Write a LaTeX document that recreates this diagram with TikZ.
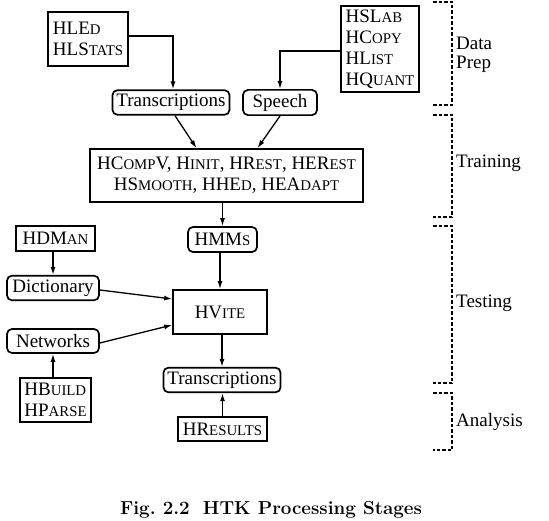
\documentclass[tikz,border=0pt]{standalone}
\usepackage{fontspec}
\newfontfamily\tms{Liberation Serif}
\usetikzlibrary{arrows.meta}
\newcommand{\hsc}[1]{{\fontsize{0.78em}{1em}\selectfont #1}}
\newcommand{\rightbar}{452}
\newcommand{\leftbar}{433}
\tikzset{
    common/.style={draw, line width=1.7pt, inner sep=4pt, font=\tms\fontsize{19}{21}\selectfont},
    tool/.style={common, rectangle, align=left},
    data/.style={common, rectangle, rounded corners=5pt},
    link/.style={-{Latex[length=8pt, width=5pt]}, line width=1.3pt},
    stage/.style={line width=1.4pt, dash pattern=on 3.5pt off 2pt},
    stagename/.style={anchor=west, align=left, inner sep=0pt, font=\tms\fontsize{19}{19}\selectfont}
}
\begin{document}
\begin{tikzpicture}[x=1pt, y=-1pt]
    \useasboundingbox (0,0) rectangle (549,521);

    % data prep
    \node[tool, minimum width=80pt, minimum height=54pt] (hled) at (88,39) {HLE\hsc{D}\\HLS\hsc{TATS}};
    \node[tool, minimum width=78pt, minimum height=84pt] (hslab) at (380,49) {HSL\hsc{AB}\\HC\hsc{OPY}\\HL\hsc{IST}\\HQ\hsc{UANT}};
    \node[data, minimum width=116pt, minimum height=23pt] (transA) at (171,102.5) {Transcriptions};
    \node[data, minimum width=74pt, minimum height=23pt] (speech) at (280,102.5) {Speech};

    % training
    \node[tool, align=center, minimum width=273pt, minimum height=53pt] (train) at (226.5,175.5)
        {HC\hsc{OMP}V, H\hsc{INIT}, HR\hsc{EST}, HER\hsc{EST}\\HS\hsc{MOOTH}, HHE\hsc{D}, HEA\hsc{DAPT}};

    % testing
    \node[data, minimum width=69pt, minimum height=25pt] (hmms) at (222.5,239.5) {HMM\hsc{S}};
    \node[tool, minimum width=79pt, minimum height=25pt] (hdman) at (55.5,238.5) {HDM\hsc{AN}};
    \node[data, minimum width=92pt, minimum height=24pt] (dict) at (53,288) {Dictionary};
    \node[tool, minimum width=94pt, minimum height=44pt] (hvite) at (220,312) {HV\hsc{ITE}};
    \node[data, minimum width=92pt, minimum height=24pt] (netw) at (53,341) {Networks};
    \node[tool, minimum width=71pt, minimum height=44pt] (hbuild) at (55.5,400) {HB\hsc{UILD}\\HP\hsc{ARSE}};

    % analysis
    \node[data, minimum width=116pt, minimum height=24pt] (transB) at (222,380) {Transcriptions};
    \node[tool, minimum width=89pt, minimum height=24pt] (hresults) at (222.5,429) {HR\hsc{ESULTS}};

    \draw[link] ([yshift=3pt]hled.east) -| ([xshift=2pt]transA.north);
    \draw[link] ([yshift=-2pt]hslab.west) -| (speech.north);
    \draw[link] ([xshift=4pt]transA.south) -- ([xshift=-30pt]train.north);
    \draw[link] (speech.south) -- ([xshift=31pt]train.north);
    \draw[link] (train.south -| hmms.north) -- (hmms.north);
    \draw[link] (hmms.south -| hvite.north) -- (hvite.north);
    \draw[link] (hdman.south -| dict.north) -- (dict.north);
    \draw[link] ([yshift=-2pt]dict.east) -- ([yshift=13pt]hvite.west);
    \draw[link] ([yshift=-2pt]netw.east) -- ([yshift=-13pt]hvite.west);
    \draw[link] (hbuild.north -| netw.south) -- (netw.south);
    \draw[link] (hvite.south -| transB.north) -- (transB.north);
    \draw[link] (hresults.north) -- (hresults.north |- transB.south);

    % stage brackets
    \foreach \top/\bot in {2/105, 115/217, 226/383, 393/450}
        \draw[stage] (\leftbar,\top) -- (\rightbar,\top) -- (\rightbar,\bot) -- (\leftbar,\bot);
    \node[stagename] (prep) at (456,55) {Data\\Prep};
    \node[stagename] (training) at (456,163) {Training};
    \node[stagename] (testing) at (456,303) {Testing};
    \node[stagename] (analysis) at (456,422) {Analysis};

    \node[font=\bfseries\fontsize{18.8}{22}\selectfont] (caption) at (271,510) {Fig.~2.2\hspace{0.7em}HTK Processing Stages};
\end{tikzpicture}
\end{document}
